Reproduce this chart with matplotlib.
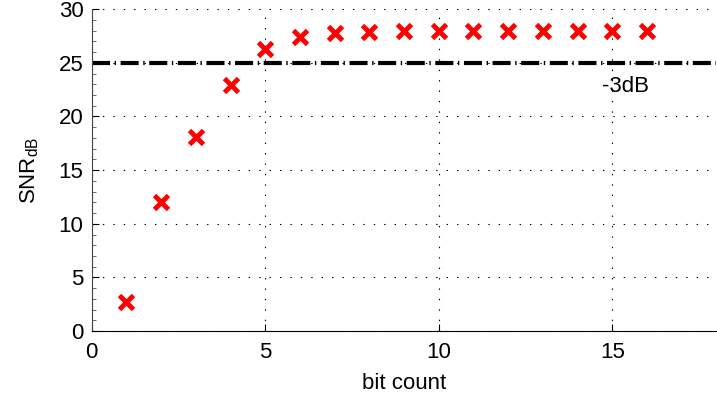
import numpy as np
import matplotlib
matplotlib.use('Agg')
import matplotlib.pyplot as plt
from matplotlib.ticker import MultipleLocator

plt.rcParams['font.family'] = ['Liberation Sans', 'DejaVu Sans']
plt.rcParams['mathtext.default'] = 'regular'
plt.rcParams['lines.scale_dashes'] = False

bits = [1, 2, 3, 4, 5, 6, 7, 8, 9, 10, 11, 12, 13, 14, 15, 16]
snr_db = [2.75, 12.05, 18.1, 22.95, 26.25, 27.45, 27.8, 27.9, 27.95, 27.95, 27.95, 27.95, 27.95, 27.95, 27.95, 27.95]
threshold = 25  # -3dB line

fs = 16

fig = plt.figure(figsize=(7.17, 3.98), dpi=100)
ax = fig.add_axes([0.128, 0.168, 0.871, 0.809])

ax.plot(bits, snr_db, 'x', color='red', markersize=10.5, markeredgewidth=3.5, zorder=3)
ax.axhline(threshold, color='black', lw=3, linestyle=(0, (13, 3.3, 1, 3.3)), zorder=2)
ax.text(14.72, 22.8, '-3dB', fontsize=fs, va='center', ha='left')

ax.set_xlim(0, 18)
ax.set_ylim(0, 30)
ax.set_xticks([0, 5, 10, 15])
ax.set_yticks([0, 5, 10, 15, 20, 25, 30])
ax.yaxis.set_minor_locator(MultipleLocator(1))
ax.tick_params(direction='in', labelsize=fs, length=5, width=0.8)
ax.tick_params(axis='x', pad=8)
ax.tick_params(axis='y', pad=6)
ax.tick_params(axis='y', which='minor', direction='in', length=3, width=0.6, color='#555555')
ax.grid(True, which='major', linestyle=(0, (1, 6.5)), color='black', lw=0.8)

ax.spines['top'].set_visible(False)
ax.spines['right'].set_visible(False)
ax.spines['left'].set_color('#444444')

ax.set_xlabel('bit count', fontsize=fs, labelpad=7)
ax.set_ylabel('SNR$_{dB}$', fontsize=fs, labelpad=13)

fig.savefig('out.png', dpi=100)
